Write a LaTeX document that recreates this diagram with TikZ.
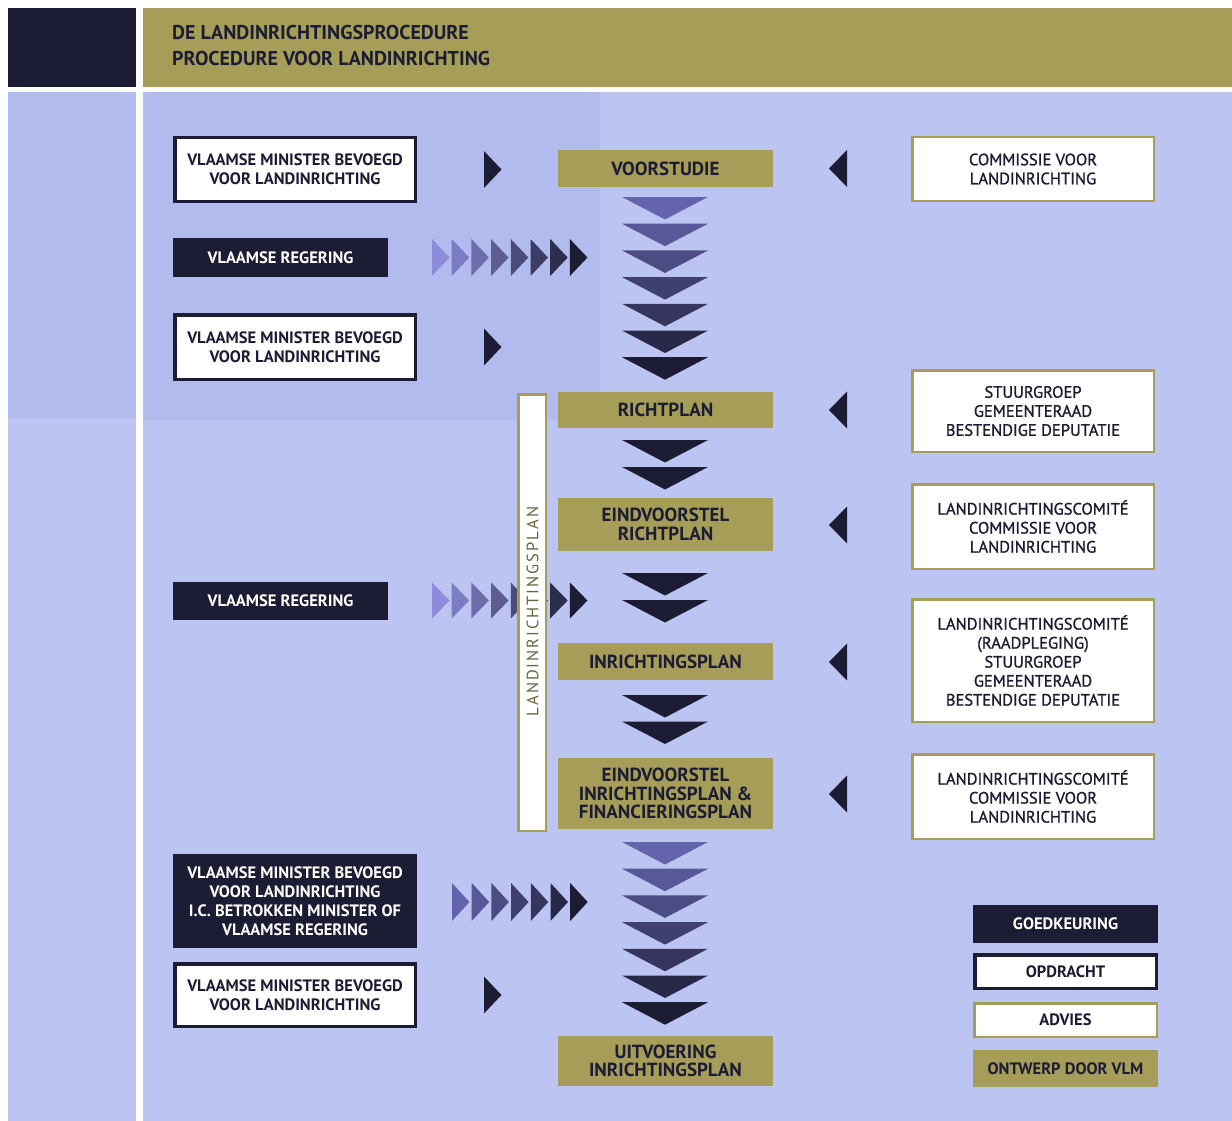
\documentclass[tikz,border=0pt]{standalone}
\usepackage{fontspec}
\setmainfont{PT Sans}
\definecolor{navy}{RGB}{28,28,52}
\definecolor{olive}{RGB}{166,158,88}
\definecolor{bluebg}{RGB}{188,197,241}
\definecolor{bluedk}{RGB}{178,187,237}
\definecolor{olivetxt}{RGB}{105,100,62}
\definecolor{lightpur}{RGB}{140,140,218}
\definecolor{midpur}{RGB}{100,100,172}
\begin{document}
\begin{tikzpicture}[x=1pt,y=-1pt,
  box/.style={inner sep=0pt, outer sep=0pt, align=center, font=\fontsize{16.5}{19}\selectfont\bfseries},
  opdr/.style={box, draw=navy, line width=3.5pt, fill=white, text=navy},
  goed/.style={box, fill=navy, text=white},
  adv/.style={box, draw=olive, line width=2.5pt, fill=white, text=navy, font=\fontsize{16.5}{19}\selectfont\addfontfeature{FakeBold=1.2}},
  stage/.style={box, fill=olive, text=navy, font=\fontsize{19}{18.5}\selectfont\bfseries},
  titletxt/.style={inner sep=0pt, anchor=base west, text=navy, font=\fontsize{20}{25}\selectfont\bfseries}]
\useasboundingbox (0,0) rectangle (1232,1121);
\fill[white] (0,0) rectangle (1232,1121);
% panels
\fill[navy] (8,8) rectangle (136,87);
\fill[olive] (143,8) rectangle (1232,87);
\fill[bluebg] (8,92) rectangle (136,1121);
\fill[bluebg] (143,92) rectangle (1232,1121);
\fill[bluedk] (8,92) rectangle (136,418);
\fill[bluedk] (143,92) rectangle (600,420);
% title
\node[titletxt] (t1) at (172,39.5) {DE LANDINRICHTINGSPROCEDURE};
\node[titletxt] (t2) at (172,66) {PROCEDURE VOOR LANDINRICHTING};
% left column
\node[opdr, minimum width=240.5pt, minimum height=63.5pt] (o1) at (295,169.5) {VLAAMSE MINISTER BEVOEGD\\VOOR LANDINRICHTING};
\node[goed, minimum width=215pt, minimum height=39pt] (g1) at (280.5,257.5) {VLAAMSE REGERING};
\node[opdr, minimum width=240.5pt, minimum height=64.5pt] (o2) at (295,347) {VLAAMSE MINISTER BEVOEGD\\VOOR LANDINRICHTING};
\node[goed, minimum width=215pt, minimum height=38pt] (g2) at (280.5,601) {VLAAMSE REGERING};
\node[goed, minimum width=244pt, minimum height=94pt] (g3) at (295,901) {VLAAMSE MINISTER BEVOEGD\\VOOR LANDINRICHTING\\I.C. BETROKKEN MINISTER OF\\VLAAMSE REGERING};
\node[opdr, minimum width=240.5pt, minimum height=62.5pt] (o3) at (295,995) {VLAAMSE MINISTER BEVOEGD\\VOOR LANDINRICHTING};
% centre column
\node[stage, minimum width=215pt, minimum height=37pt] (s1) at (665.5,168.5) {VOORSTUDIE};
\node[stage, minimum width=215pt, minimum height=36pt] (s2) at (665.5,410) {RICHTPLAN};
\node[stage, minimum width=215pt, minimum height=53pt] (s3) at (665.5,524.5) {EINDVOORSTEL\\RICHTPLAN};
\node[stage, minimum width=215pt, minimum height=37pt] (s4) at (665.5,661.5) {INRICHTINGSPLAN};
\node[stage, minimum width=215pt, minimum height=71pt] (s5) at (665.5,793.5) {EINDVOORSTEL\\INRICHTINGSPLAN \&\\FINANCIERINGSPLAN};
\node[stage, minimum width=215pt, minimum height=50pt] (s6) at (665.5,1061) {UITVOERING\\INRICHTINGSPLAN};
% right column
\node[adv, minimum width=241.5pt, minimum height=63.5pt] (a1) at (1033,169) {COMMISSIE VOOR\\LANDINRICHTING};
\node[adv, minimum width=241.5pt, minimum height=81.5pt] (a2) at (1033,411) {STUURGROEP\\GEMEENTERAAD\\BESTENDIGE DEPUTATIE};
\node[adv, minimum width=241.5pt, minimum height=84.5pt] (a3) at (1033,526.5) {LANDINRICHTINGSCOMITÉ\\COMMISSIE VOOR\\LANDINRICHTING};
\node[adv, minimum width=241.5pt, minimum height=122.5pt] (a4) at (1033,660.5) {LANDINRICHTINGSCOMITÉ\\(RAADPLEGING)\\STUURGROEP\\GEMEENTERAAD\\BESTENDIGE DEPUTATIE};
\node[adv, minimum width=241.5pt, minimum height=84.5pt] (a5) at (1033,796.5) {LANDINRICHTINGSCOMITÉ\\COMMISSIE VOOR\\LANDINRICHTING};
% legend
\node[goed, minimum width=185pt, minimum height=38pt] (l1) at (1065.5,924) {GOEDKEURING};
\node[opdr, minimum width=181.5pt, minimum height=33.5pt] (l2) at (1065.5,971.5) {OPDRACHT};
\node[adv, minimum width=182.5pt, minimum height=33.5pt, font=\fontsize{16.5}{19}\selectfont\bfseries] (l3) at (1065.5,1020) {ADVIES};
\node[stage, minimum width=185pt, minimum height=37pt, font=\fontsize{16.5}{19}\selectfont\bfseries] (l4) at (1065.5,1068.5) {ONTWERP DOOR VLM};
% single right-pointing triangles (opdracht)
\foreach \yy in {169.5,347,995}{
  \fill[navy] (484,\yy-18.5) -- (501.5,\yy) -- (484,\yy+18.5) -- cycle;}
% left-pointing triangles (advies)
\foreach \yy in {168.5,410,525,662,794}{
  \fill[navy] (847,\yy-18.5) -- (829,\yy) -- (847,\yy+18.5) -- cycle;}
% gradient right-pointing series
\foreach \i in {0,...,7}{
  \pgfmathsetmacro\xx{432+19.7*\i}
  \pgfmathtruncatemacro\pc{100*\i/7}
  \fill[navy!\pc!lightpur] (\xx,239) -- (\xx+17.5,257.5) -- (\xx,276) -- cycle;
  \fill[navy!\pc!lightpur] (\xx,582.5) -- (\xx+17.5,600.5) -- (\xx,618.5) -- cycle;}
\foreach \i in {0,...,6}{
  \pgfmathsetmacro\xx{452+19.7*\i}
  \pgfmathtruncatemacro\pc{100*\i/6}
  \fill[navy!\pc!midpur] (\xx,883) -- (\xx+17.5,902) -- (\xx,921) -- cycle;}
% downward triangles
\foreach \i in {0,...,6}{
  \pgfmathsetmacro\ty{197+26.7*\i}
  \pgfmathsetmacro\by{842+26.7*\i}
  \pgfmathtruncatemacro\pc{100*\i/6}
  \fill[navy!\pc!midpur] (622,\ty) -- (708,\ty) -- (665,\ty+22.5) -- cycle;
  \fill[navy!\pc!midpur] (622,\by) -- (708,\by) -- (665,\by+22.5) -- cycle;}
\foreach \ty in {440,467,573,600,695,721.5}{
  \fill[navy] (622,\ty) -- (708,\ty) -- (665,\ty+22.5) -- cycle;}
% vertical plan bar
\node[draw=olive, line width=2.5pt, fill=white, inner sep=0pt, minimum width=27.5pt, minimum height=436.5pt] (bar) at (532,612.5) {};
\node[rotate=90, text=olivetxt, inner sep=0pt, font=\fontsize{16.5}{16.5}\selectfont\addfontfeature{LetterSpace=12}] (bartxt) at (532.5,611.5) {LANDINRICHTINGSPLAN};
\end{tikzpicture}
\end{document}
